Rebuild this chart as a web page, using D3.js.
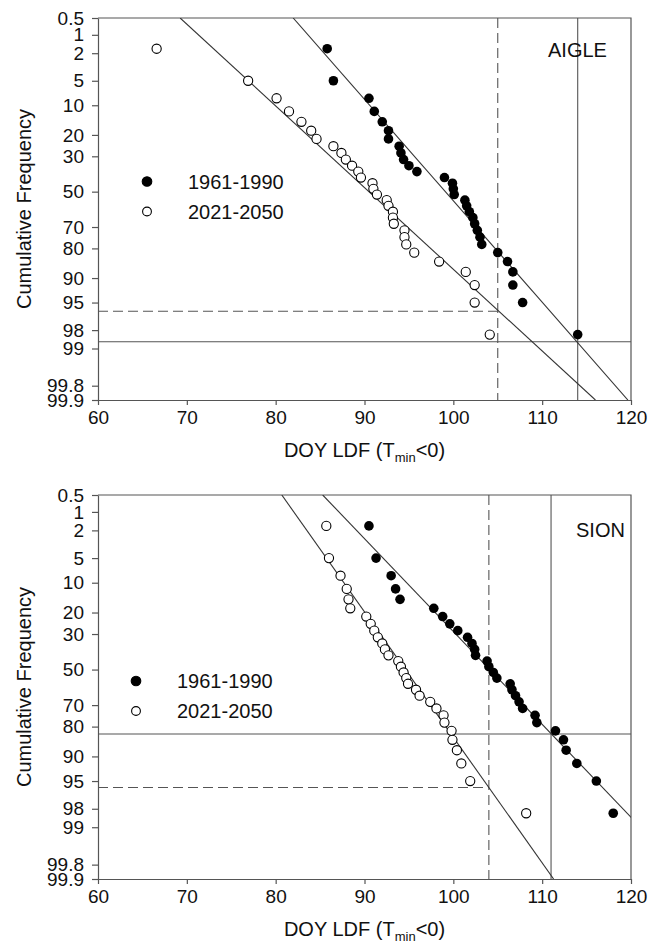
<!DOCTYPE html>
<html>
<head>
<meta charset="utf-8">
<script src="https://cdn.jsdelivr.net/npm/d3@7"></script>
<style>
  body { margin: 0; background: #fff; }
  svg text { font-family: "Liberation Sans", Arial, sans-serif; fill: #111; }
</style>
</head>
<body>
<svg width="660" height="950"></svg>
<script>
// plotting positions (cumulative frequency, %) shared by every 30-year series
const cumFreq = [1.7, 5.0, 8.3, 11.7, 15.0, 18.3, 21.7, 25.0, 28.3, 31.7, 35.0, 38.3, 41.7, 45.0, 48.3,
                 51.7, 55.0, 58.3, 61.7, 65.0, 68.3, 71.7, 75.0, 78.3, 81.7, 85.0, 88.3, 91.7, 95.0, 98.3];

// sorted DOY of last damaging frost
const aigle1961 = [85.8, 86.5, 90.5, 91.1, 92.0, 92.7, 92.7, 93.9, 94.1, 94.4, 95.0, 95.9, 99.0, 99.9, 100.0,
                   100.1, 101.3, 101.5, 101.8, 102.2, 102.4, 102.7, 103.0, 103.2, 105.0, 106.1, 106.7, 106.7, 107.8, 114.0];
const aigle2021 = [66.6, 76.9, 80.1, 81.5, 82.9, 84.0, 84.6, 86.5, 87.4, 87.9, 88.6, 89.3, 89.6, 90.9, 91.0,
                   91.4, 92.5, 92.7, 93.2, 93.2, 93.3, 94.5, 94.5, 94.7, 95.6, 98.4, 101.4, 102.4, 102.4, 104.1];
const sion1961 = [90.5, 91.3, 93.0, 93.5, 94.0, 97.8, 98.8, 99.6, 100.5, 101.6, 102.1, 102.4, 102.5, 103.8, 104.0,
                  104.5, 104.9, 106.4, 106.6, 107.0, 107.4, 107.8, 109.2, 109.4, 111.5, 112.4, 112.7, 113.9, 116.1, 118.0];
const sion2021 = [85.7, 86.0, 87.3, 88.0, 88.2, 88.4, 90.2, 90.7, 91.1, 91.5, 92.0, 92.3, 92.7, 93.8, 94.1,
                  94.4, 94.7, 94.9, 95.8, 96.2, 97.4, 98.1, 98.9, 99.0, 99.8, 99.9, 100.4, 100.9, 101.9, 108.2];

// fitted normal distributions [mean, sd]
const aigleFit1961 = [99.1, 6.65];
const aigleFit2021 = [90.5, 8.25];
const sionFit1961 = [104.1, 7.3];
const sionFit2021 = [94.6, 5.4];

const aigleRefDoy = [105, 114];
const aigleRefFreq = [96.2, 98.7];
const sionRefDoy = [104, 111];
const sionRefFreq = [95.9, 82.9];

const yTicks = [0.5, 1, 2, 5, 10, 20, 30, 50, 70, 80, 90, 95, 98, 99, 99.8, 99.9];
const xTicks = [60, 70, 80, 90, 100, 110, 120];
const seriesNames = ["1961-1990", "2021-2050"];

// inverse normal cdf (Acklam)
function probit(p) {
  const a = [-3.969683028665376e+01, 2.209460984245205e+02, -2.759285104469687e+02, 1.383577518672690e+02, -3.066479806614716e+01, 2.506628277459239e+00];
  const b = [-5.447609879822406e+01, 1.615858368580409e+02, -1.556989798598866e+02, 6.680131188771972e+01, -1.328068155288572e+01];
  const c = [-7.784894002430293e-03, -3.223964580411365e-01, -2.400758277161838e+00, -2.549732539343734e+00, 4.374664141464968e+00, 2.938163982698783e+00];
  const d = [7.784695709041462e-03, 3.224671290700398e-01, 2.445134137142996e+00, 3.754408661907416e+00];
  const pl = 0.02425;
  let q, r;
  if (p < pl) {
    q = Math.sqrt(-2 * Math.log(p));
    return (((((c[0]*q+c[1])*q+c[2])*q+c[3])*q+c[4])*q+c[5]) / ((((d[0]*q+d[1])*q+d[2])*q+d[3])*q+1);
  } else if (p <= 1 - pl) {
    q = p - 0.5; r = q * q;
    return (((((a[0]*r+a[1])*r+a[2])*r+a[3])*r+a[4])*r+a[5])*q / (((((b[0]*r+b[1])*r+b[2])*r+b[3])*r+b[4])*r+1);
  } else {
    q = Math.sqrt(-2 * Math.log(1 - p));
    return -(((((c[0]*q+c[1])*q+c[2])*q+c[3])*q+c[4])*q+c[5]) / ((((d[0]*q+d[1])*q+d[2])*q+d[3])*q+1);
  }
}
const z = pct => probit(pct / 100);

const svg = d3.select("svg");
const lineColor = "#333";
const axisColor = "#555";

const xScale = d3.scaleLinear().domain([60, 120]).range([98, 631]);

function drawPanel(top, bottom, name, obs, fut, fitObs, fitFut, refDoy, refFreq, legendX, legendY, nameX, nameY, id) {
  const yScale = d3.scaleLinear().domain([z(0.5), z(99.9)]).range([top, bottom]);
  const g = svg.append("g");

  g.append("clipPath").attr("id", "clip" + id)
    .append("rect")
    .attr("x", xScale(60)).attr("y", top)
    .attr("width", xScale(120) - xScale(60)).attr("height", bottom - top);

  // frame (top and right)
  g.append("path")
    .attr("d", `M${xScale(60)},${top}H${xScale(120)}V${bottom}`)
    .attr("fill", "none").attr("stroke", axisColor).attr("stroke-width", 1.2);

  // axes
  const yAxis = g.append("g")
    .attr("transform", `translate(${xScale(60)},0)`)
    .call(d3.axisLeft(yScale)
      .tickValues(yTicks.map(z))
      .tickFormat((d, i) => yTicks[i])
      .tickSize(6).tickSizeOuter(0).tickPadding(8));

  const xAxis = g.append("g")
    .attr("transform", `translate(0,${bottom})`)
    .call(d3.axisBottom(xScale)
      .tickValues(xTicks)
      .tickSize(5).tickSizeOuter(0).tickPadding(6));

  [yAxis, xAxis].forEach(a => {
    a.selectAll("path, line").attr("stroke", axisColor).attr("stroke-width", 1.2);
    a.selectAll("text").attr("font-size", 19).attr("fill", "#111")
      .style("font-family", "'Liberation Sans', Arial, sans-serif");
  });

  // reference lines
  const refs = g.append("g").attr("stroke", axisColor).attr("stroke-width", 1.1);
  refDoy.forEach((doy, i) => {
    const dash = i === 0 ? "10,5" : null;
    refs.append("line")
      .attr("x1", xScale(doy)).attr("x2", xScale(doy))
      .attr("y1", top).attr("y2", bottom)
      .attr("stroke-dasharray", dash);
    refs.append("line")
      .attr("x1", xScale(60)).attr("x2", i === 0 ? xScale(doy) : xScale(120))
      .attr("y1", yScale(z(refFreq[i]))).attr("y2", yScale(z(refFreq[i])))
      .attr("stroke-dasharray", dash);
  });

  // fitted lines
  [fitObs, fitFut].forEach(([mu, sd]) => {
    const zs = [z(0.5), z(99.9)];
    g.append("line")
      .attr("clip-path", `url(#clip${id})`)
      .attr("x1", xScale(mu + zs[0] * sd)).attr("y1", yScale(zs[0]))
      .attr("x2", xScale(mu + zs[1] * sd)).attr("y2", yScale(zs[1]))
      .attr("stroke", lineColor).attr("stroke-width", 1.1);
  });

  // points
  g.selectAll(".fut").data(fut).join("circle")
    .attr("cx", d => xScale(d))
    .attr("cy", (d, i) => yScale(z(cumFreq[i])))
    .attr("r", 4.6)
    .attr("fill", "#fff").attr("stroke", "#000").attr("stroke-width", 1.1);

  g.selectAll(".obs").data(obs).join("circle")
    .attr("cx", d => xScale(d))
    .attr("cy", (d, i) => yScale(z(cumFreq[i])))
    .attr("r", 4.8)
    .attr("fill", "#000");

  // legend
  seriesNames.forEach((s, i) => {
    const ly = legendY + i * 30;
    g.append("circle")
      .attr("cx", legendX).attr("cy", ly)
      .attr("r", i === 0 ? 4.8 : 4.4)
      .attr("fill", i === 0 ? "#000" : "#fff")
      .attr("stroke", "#000").attr("stroke-width", 1.1);
    g.append("text")
      .attr("x", legendX + 41).attr("y", ly + 7)
      .attr("font-size", 20)
      .text(s);
  });

  // station name
  g.append("text")
    .attr("x", nameX).attr("y", nameY)
    .attr("font-size", 20)
    .text(name);

  // axis titles
  g.append("text")
    .attr("transform", `translate(31,${(top + bottom) / 2}) rotate(-90)`)
    .attr("text-anchor", "middle")
    .attr("font-size", 20)
    .text("Cumulative Frequency");

  const xt = g.append("text")
    .attr("x", (xScale(60) + xScale(120)) / 2)
    .attr("y", bottom + 57)
    .attr("text-anchor", "middle")
    .attr("font-size", 20);
  xt.append("tspan").text("DOY LDF (T");
  xt.append("tspan").attr("dy", 5).attr("font-size", 13).text("min");
  xt.append("tspan").attr("dy", -5).text("<0)");
}

drawPanel(18, 400, "AIGLE", aigle1961, aigle2021, aigleFit1961, aigleFit2021,
  aigleRefDoy, aigleRefFreq, 147, 181.5, 548, 57, "a");
drawPanel(495, 879, "SION", sion1961, sion2021, sionFit1961, sionFit2021,
  sionRefDoy, sionRefFreq, 136, 681, 576, 537, "b");
</script>
</body>
</html>
